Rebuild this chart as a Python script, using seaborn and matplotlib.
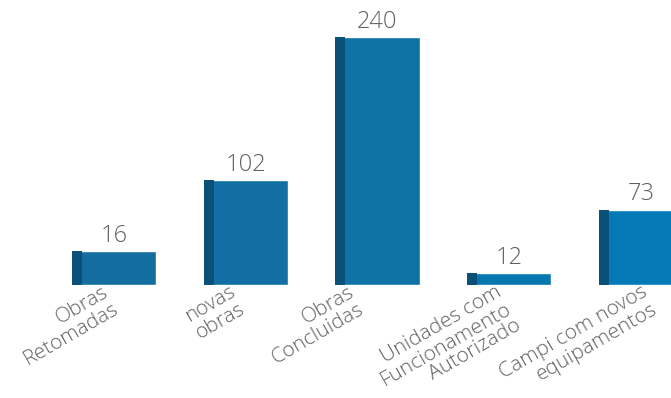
import matplotlib
matplotlib.use("Agg")
import matplotlib.pyplot as plt
import matplotlib.transforms as mtransforms
import seaborn as sns
import pandas as pd
import numpy as np

categories = ["Obras\nRetomadas", "novas\nobras", "Obras\nConcluidas",
              "Unidades com\nFuncionamento\nAutorizado", "Campi com novos\nequipamentos"]
bar_heights = [33, 102, 240, 12, 73]
value_labels = ["16", "102", "240", "12", "73"]
bar_colors = ["#136d9f", "#116fa3", "#0e72a7", "#0877b0", "#037ab7"]
strip_color = "#0a5079"

# layout: horizontal nudge of each category label (pixels)
label_nudge_px = [-12, -17, -30, -14, 0]

sns.set_theme(style="white")
plt.rcParams['font.family'] = ['Open Sans', 'DejaVu Sans']

fig = plt.figure(figsize=(6.71, 3.98), dpi=100)
ax = fig.add_axes([0, (398-285)/398, 1, 285/398])

df = pd.DataFrame({"cat": categories, "val": bar_heights})
sns.barplot(data=df, x="cat", y="val", hue="cat", palette=bar_colors,
            width=0.64, legend=False, ax=ax, saturation=1)

strip_w = 10/131.75
xs = np.arange(len(categories))
ax.bar(xs - 0.32, bar_heights, width=strip_w, align="edge", color=strip_color, linewidth=0)

for x, h, t in zip(xs, bar_heights, value_labels):
    ax.text(x, h + 3, t, ha="center", va="bottom", fontsize=17, color="#616161",
            fontweight=300)

ax.set_xlim(-114/131.75, (671-114)/131.75)
ax.set_ylim(0, 285/1.0333)
ax.set_xlabel("")
ax.set_ylabel("")
ax.set_yticks([])
ax.set_xticks(xs)
ax.set_xticklabels(categories, rotation=30, ha="right", va="top", rotation_mode="anchor",
                   multialignment="right", fontsize=15, color="#616161", fontweight=300,
                   linespacing=0.98)
ax.tick_params(axis="x", length=0, pad=0)
for lab, dx in zip(ax.get_xticklabels(), label_nudge_px):
    lab.set_transform(lab.get_transform() +
                      mtransforms.ScaledTranslation(dx/100, 3/100, fig.dpi_scale_trans))
for s in ax.spines.values():
    s.set_visible(False)

fig.savefig("out.png", dpi=100)
